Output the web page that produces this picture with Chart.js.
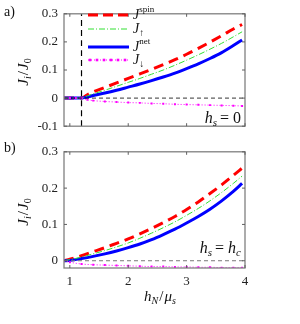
<!DOCTYPE html>
<html>
<head>
<meta charset="utf-8">
<script src="https://cdn.jsdelivr.net/npm/chart.js@4/dist/chart.umd.min.js"></script>
<style>
  html, body { margin: 0; padding: 0; background: #fff; }
  #wrap { position: relative; width: 300px; height: 324px; }
  .panel { position: absolute; left: 0; width: 300px; }
</style>
</head>
<body>
<div id="wrap">
  <div class="panel" style="top:0;height:140px"><canvas id="chartA"></canvas></div>
  <div class="panel" style="top:138px;height:186px"><canvas id="chartB"></canvas></div>
</div>
<script>
// x-Achse
const xTicks = [1, 2, 3, 4];
const xRange = [0.9, 4];

// Panel a) h_s = 0
const topX    = [0.9, 1.0, 1.1, 1.2, 1.3, 1.4, 1.6, 1.8, 2.0, 2.2, 2.4, 2.6, 2.8, 3.0, 3.2, 3.4, 3.6, 3.8, 3.95];
const topSpin = [0, 0, 0, 0, 0.012, 0.022, 0.038, 0.054, 0.07, 0.086, 0.102, 0.119, 0.137, 0.156, 0.177, 0.199, 0.222, 0.246, 0.262];
const topUp   = [0, 0, 0, 0, 0.008, 0.015, 0.028, 0.042, 0.056, 0.07, 0.085, 0.1, 0.117, 0.135, 0.154, 0.174, 0.195, 0.218, 0.236];
const topNet  = [0, 0, 0, 0, 0.004, 0.009, 0.018, 0.028, 0.039, 0.05, 0.062, 0.075, 0.089, 0.105, 0.122, 0.141, 0.162, 0.187, 0.207];
const topDown = [0, 0, 0, 0, -0.006, -0.009, -0.012, -0.014, -0.016, -0.017, -0.019, -0.02, -0.022, -0.023, -0.024, -0.025, -0.026, -0.027, -0.028];
const topYTicks = [-0.1, 0, 0.1, 0.2, 0.3];
const topYRange = [-0.1, 0.3];
const hCrit = 1.2; // senkrechte Linie

// Panel b) h_s = h_c
const botX    = [0.9, 1.0, 1.2, 1.4, 1.6, 1.8, 2.0, 2.2, 2.4, 2.6, 2.8, 3.0, 3.2, 3.4, 3.6, 3.8, 3.95];
const botSpin = [0, 0.004, 0.014, 0.025, 0.036, 0.048, 0.06, 0.074, 0.089, 0.105, 0.122, 0.141, 0.162, 0.185, 0.209, 0.235, 0.255];
const botUp   = [0, 0.003, 0.01, 0.019, 0.028, 0.038, 0.049, 0.062, 0.076, 0.091, 0.107, 0.125, 0.144, 0.165, 0.188, 0.213, 0.233];
const botNet  = [0, 0.001, 0.006, 0.012, 0.019, 0.027, 0.036, 0.046, 0.058, 0.072, 0.087, 0.104, 0.122, 0.142, 0.165, 0.191, 0.213];
const botDown = [0, -0.004, -0.009, -0.011, -0.012, -0.013, -0.014, -0.015, -0.016, -0.016, -0.017, -0.017, -0.018, -0.018, -0.019, -0.019, -0.019];
const botYTicks = [0, 0.1, 0.2, 0.3];
const botYRange = [-0.02, 0.3];

const SERIF = '"Liberation Serif", "DejaVu Serif", serif';
const RED = '#ff0000', GREEN = '#33e033', BLUE = '#0000ff', MAG = '#ff00ff';

function pts(xs, ys) {
    return xs.map((x, i) => ({ x: x, y: ys[i] }));
}

// Text mit Hoch-/Tiefstellung zeichnen
function mathText(ctx, x, y, parts, align) {
    let w = 0;
    parts.forEach(p => {
        ctx.font = (p.it ? 'italic ' : '') + p.size + 'px ' + SERIF;
        p.w = ctx.measureText(p.t).width;
        w += p.w + (p.gap || 0);
    });
    let cx = align === 'center' ? x - w / 2 : (align === 'right' ? x - w : x);
    ctx.textBaseline = 'middle';
    ctx.textAlign = 'left';
    parts.forEach(p => {
        ctx.font = (p.it ? 'italic ' : '') + p.size + 'px ' + SERIF;
        ctx.fillText(p.t, cx, y + (p.dy || 0));
        cx += p.w + (p.gap || 0);
    });
}

const yTitle = [
    { t: 'J', it: true, size: 15 }, { t: 'i', it: true, size: 10, dy: 4, gap: 1 },
    { t: '/', size: 15, gap: 1 }, { t: 'J', it: true, size: 15 }, { t: '0', size: 10, dy: 4 }
];

function makeDecor(opts) {
    return {
        id: 'decor',
        afterDatasetsDraw(chart) {
            const ctx = chart.ctx;
            const a = chart.chartArea;
            const xs = chart.scales.x, ys = chart.scales.y;
            ctx.save();
            // Rahmen
            ctx.strokeStyle = '#808080';
            ctx.lineWidth = 1.3;
            ctx.setLineDash([]);
            ctx.strokeRect(a.left, a.top, a.right - a.left, a.bottom - a.top);
            // Ticks nach innen
            ctx.lineWidth = 1;
            ctx.strokeStyle = '#606060';
            ctx.beginPath();
            xTicks.forEach(v => {
                const px = xs.getPixelForValue(v);
                ctx.moveTo(px, a.bottom); ctx.lineTo(px, a.bottom - 3);
                ctx.moveTo(px, a.top); ctx.lineTo(px, a.top + 3);
            });
            opts.yTicks.forEach(v => {
                const py = ys.getPixelForValue(v);
                ctx.moveTo(a.left, py); ctx.lineTo(a.left + 3, py);
                ctx.moveTo(a.right, py); ctx.lineTo(a.right - 3, py);
            });
            ctx.stroke();
            ctx.fillStyle = '#111';
            // Panel-Beschriftung
            ctx.font = '14px ' + SERIF;
            ctx.textBaseline = 'middle';
            ctx.textAlign = 'left';
            ctx.fillText(opts.tag, 4, opts.tagY);
            // y-Titel
            ctx.save();
            ctx.translate(24, opts.yTitleY);
            ctx.rotate(-Math.PI / 2);
            mathText(ctx, 0, 0, yTitle, 'center');
            ctx.restore();
            // h_s Beschriftung
            mathText(ctx, a.right - 4, opts.noteY, opts.note, 'right');
            if (opts.xTitle) {
                mathText(ctx, 160, opts.xTitleY, opts.xTitle, 'center');
            }
            if (opts.legend) drawLegend(ctx);
            ctx.restore();
        }
    };
}

function drawLegend(ctx) {
    const items = [
        { y: 15, color: RED, w: 3, dash: [10, 5], label: [{ t: 'J', it: true, size: 14 }, { t: 'spin', size: 9, dy: -5 }] },
        { y: 29, color: GREEN, w: 1, dash: [6, 2, 1, 2], label: [{ t: 'J', it: true, size: 14 }, { t: '\u2191', size: 10, dy: 4 }] },
        { y: 47, color: BLUE, w: 3, dash: [], label: [{ t: 'J', it: true, size: 14 }, { t: 'net', size: 9, dy: -5 }] },
        { y: 60, color: MAG, w: 1, dash: [1, 2], marks: true, label: [{ t: 'J', it: true, size: 14 }, { t: '\u2193', size: 10, dy: 4 }] }
    ];
    items.forEach(it => {
        ctx.strokeStyle = it.color;
        ctx.lineWidth = it.w;
        ctx.setLineDash(it.dash);
        ctx.beginPath();
        ctx.moveTo(88, it.y); ctx.lineTo(129, it.y);
        ctx.stroke();
        if (it.marks) {
            ctx.fillStyle = it.color;
            for (let x = 90; x <= 129; x += 7) ctx.fillRect(x - 1.3, it.y - 1.3, 2.6, 2.6);
        }
        ctx.setLineDash([]);
        ctx.fillStyle = '#111';
        mathText(ctx, 133, it.y, it.label, 'left');
    });
}

function series(xs, spin, up, net, down) {
    return [
        { data: pts(xs, down), borderColor: MAG, backgroundColor: MAG, borderWidth: 1, borderDash: [1, 2],
          pointRadius: 1.4, pointStyle: 'rect', pointBorderWidth: 0 },
        { data: pts(xs, up), borderColor: GREEN, borderWidth: 1, borderDash: [6, 2, 1, 2], pointRadius: 0 },
        { data: pts(xs, net), borderColor: BLUE, borderWidth: 3, pointRadius: 0 },
        { data: pts(xs, spin), borderColor: RED, borderWidth: 3, borderDash: [10, 6], pointRadius: 0 }
    ];
}

function fmt(v) {
    return v === 0 ? '0' : String(Math.round(v * 10) / 10);
}

function options(yTicks, yRange, xLabels, xHeight) {
    return {
        responsive: true,
        maintainAspectRatio: false,
        animation: false,
        layout: { padding: { top: 5, right: 55, left: 0, bottom: 0 } },
        plugins: { legend: { display: false }, tooltip: { enabled: false } },
        elements: { line: { cubicInterpolationMode: 'monotone', fill: false } },
        scales: {
            x: {
                type: 'linear', min: xRange[0], max: xRange[1],
                afterBuildTicks: s => { s.ticks = xTicks.map(v => ({ value: v })); },
                afterFit: s => { s.height = xHeight; },
                grid: { display: false, drawTicks: false },
                border: { display: false },
                ticks: { display: xLabels, padding: 6, color: '#222', font: { family: SERIF, size: 13 }, callback: v => String(v) }
            },
            y: {
                type: 'linear', min: yRange[0], max: yRange[1],
                afterBuildTicks: s => { s.ticks = yTicks.map(v => ({ value: v })); },
                afterFit: s => { s.width = 64; },
                grid: { display: false, drawTicks: false },
                border: { display: false },
                ticks: { padding: 6, color: '#222', font: { family: SERIF, size: 13 }, callback: v => fmt(v) }
            }
        }
    };
}

// Panel a)
const dsA = series(topX, topSpin, topUp, topNet, topDown);
dsA.unshift(
    { data: pts([hCrit, hCrit], [topYRange[0], topYRange[1]]), borderColor: '#000', borderWidth: 1.2, borderDash: [6, 4], pointRadius: 0 },
    { data: pts(xRange, [0, 0]), borderColor: '#000', borderWidth: 0.8, borderDash: [4, 3], pointRadius: 0 }
);
new Chart(document.getElementById('chartA'), {
    type: 'line',
    data: { datasets: dsA },
    options: options(topYTicks, topYRange, false, 10),
    plugins: [makeDecor({
        yTicks: topYTicks, tag: 'a)', tagY: 12, yTitleY: 72, noteY: 119, legend: true,
        note: [{ t: 'h', it: true, size: 16 }, { t: 's', it: true, size: 11, dy: 4, gap: 3 }, { t: '= 0', size: 16 }]
    })]
});

// Panel b)
const dsB = series(botX, botSpin, botUp, botNet, botDown);
dsB.unshift(
    { data: pts(xRange, [0, 0]), borderColor: '#777', borderWidth: 1, borderDash: [4, 3], pointRadius: 0 }
);
new Chart(document.getElementById('chartB'), {
    type: 'line',
    data: { datasets: dsB },
    options: options(botYTicks, botYRange, true, 56),
    plugins: [makeDecor({
        yTicks: botYTicks, tag: 'b)', tagY: 10, yTitleY: 74, noteY: 111,
        note: [{ t: 'h', it: true, size: 16 }, { t: 's', it: true, size: 11, dy: 4, gap: 3 }, { t: '= ', size: 16 },
               { t: 'h', it: true, size: 16 }, { t: 'c', it: true, size: 11, dy: 4 }],
        xTitleY: 159,
        xTitle: [{ t: 'h', it: true, size: 15 }, { t: 'N', it: true, size: 10, dy: 4, gap: 1 }, { t: '/', size: 15, gap: 1 },
                 { t: '\u03bc', it: true, size: 15 }, { t: 's', it: true, size: 10, dy: 4 }]
    })]
});
</script>
</body>
</html>
